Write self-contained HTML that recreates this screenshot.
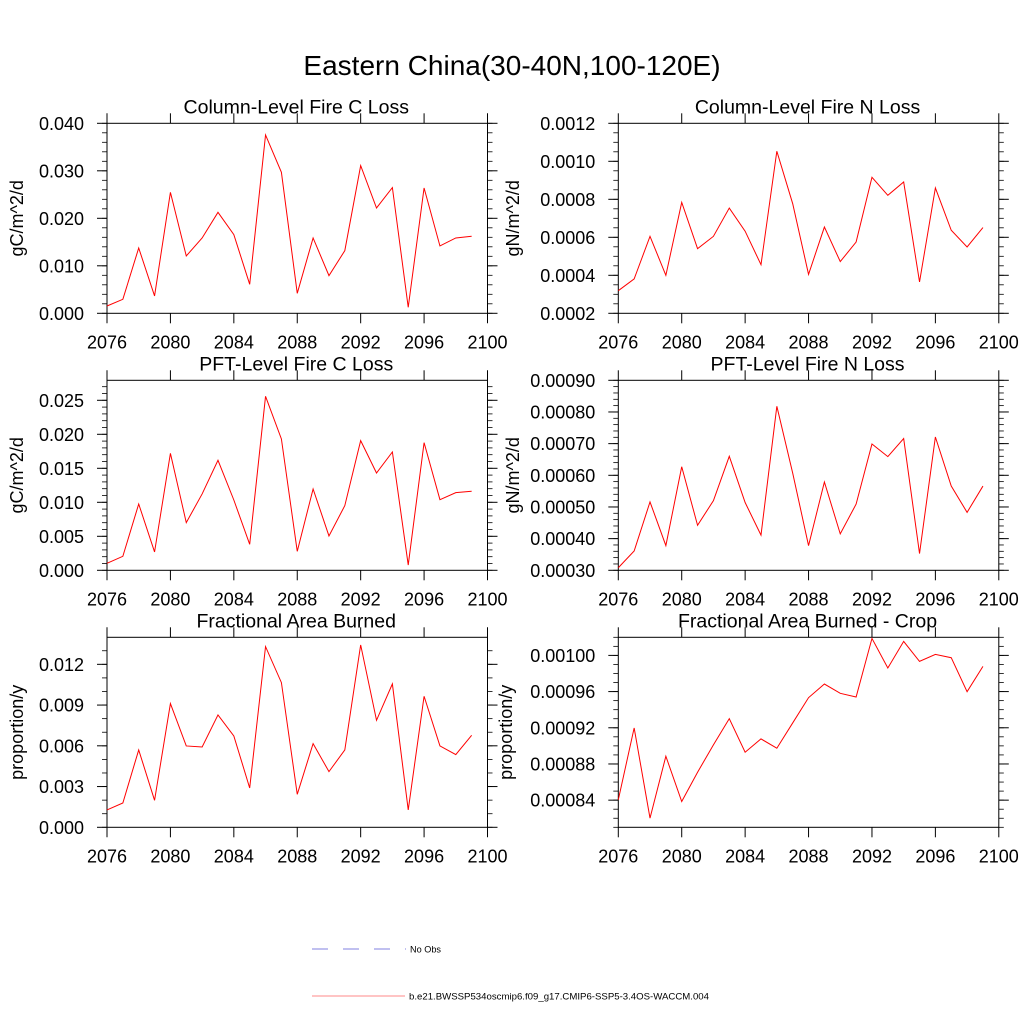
<!DOCTYPE html>
<html><head><meta charset="utf-8"><style>
html,body{margin:0;padding:0;background:#fff;}
svg{display:block;font-family:"Liberation Sans",sans-serif;}
</style></head><body>
<svg id="chart" width="1024" height="1024" viewBox="0 0 1024 1024" xmlns="http://www.w3.org/2000/svg">
<rect width="1024" height="1024" fill="#fff"/>
<text x="512" y="75" font-size="28" text-anchor="middle">Eastern China(30-40N,100-120E)</text>
<g id="panels"></g>
<g>
<line x1="312" y1="949" x2="406" y2="949" stroke="#8080e0" stroke-width="1" stroke-dasharray="16,15"/>
<text x="410" y="952.5" font-size="9.6" textLength="31" lengthAdjust="spacingAndGlyphs">No Obs</text>
<line x1="312" y1="996" x2="405" y2="996" stroke="#ff8888" stroke-width="1"/>
<text x="409" y="999.5" font-size="9.6" textLength="300" lengthAdjust="spacingAndGlyphs">b.e21.BWSSP534oscmip6.f09_g17.CMIP6-SSP5-3.4OS-WACCM.004</text>
</g>
</svg>
<script>
const years = [2076,2077,2078,2079,2080,2081,2082,2083,2084,2085,2086,2087,2088,2089,2090,2091,2092,2093,2094,2095,2096,2097,2098,2099];
const xTicks = [2076,2080,2084,2088,2092,2096,2100];
const colFireC = [0.00154,0.00295,0.01375,0.00365,0.02547,0.01207,0.01586,0.02126,0.01656,0.0061,0.03754,0.02968,0.00421,0.01586,0.00793,0.01319,0.03109,0.02217,0.02646,0.00126,0.02639,0.01418,0.01586,0.01621];
const colFireN = [0.000319,0.000381,0.000605,0.0004,0.000784,0.00054,0.000605,0.000754,0.000632,0.000456,0.001053,0.000777,0.000405,0.000654,0.000472,0.000575,0.000916,0.000821,0.000891,0.000365,0.00086,0.000637,0.000549,0.000651];
const pftFireC = [0.00103,0.00206,0.00975,0.0027,0.0172,0.00701,0.01123,0.01618,0.01034,0.00382,0.02559,0.01931,0.00279,0.01196,0.00505,0.00951,0.01907,0.01431,0.0174,0.00078,0.01877,0.01039,0.01142,0.01162];
const pftFireN = [0.000308,0.000361,0.000516,0.000378,0.000627,0.000442,0.00052,0.00066,0.000514,0.000411,0.000818,0.000607,0.000378,0.000579,0.000415,0.000509,0.000699,0.000659,0.000716,0.000353,0.000721,0.000566,0.000483,0.000566];
const areaBurned = [0.001277,0.001792,0.005696,0.001989,0.009108,0.00599,0.005917,0.008273,0.006727,0.002897,0.013306,0.010655,0.00243,0.006162,0.0041,0.005696,0.013429,0.00788,0.010557,0.001277,0.009648,0.00599,0.005352,0.006776];
const areaBurnedCrop = [0.00084037,0.00091982,0.00082014,0.00088855,0.00083853,0.0008709,0.00090106,0.00093011,0.00089297,0.00090768,0.00089738,0.00092533,0.00095329,0.00096837,0.00095807,0.00095402,0.00101876,0.00098603,0.00101545,0.00099338,0.0010011,0.00099743,0.00095991,0.00098787];
const ticks1 = ["0.000","0.010","0.020","0.030","0.040"];
const ticks2 = ["0.0002","0.0004","0.0006","0.0008","0.0010","0.0012"];
const ticks3 = ["0.000","0.005","0.010","0.015","0.020","0.025"];
const ticks4 = ["0.00030","0.00040","0.00050","0.00060","0.00070","0.00080","0.00090"];
const ticks5 = ["0.000","0.003","0.006","0.009","0.012"];
const ticks6 = ["0.00084","0.00088","0.00092","0.00096","0.00100"];

const NS="http://www.w3.org/2000/svg";
const root=document.getElementById('panels');
function el(tag,attrs,parent){const e=document.createElementNS(NS,tag);for(const k in attrs)e.setAttribute(k,attrs[k]);parent.appendChild(e);return e;}

const panels=[
 {id:'col-fire-c',title:'Column-Level Fire C Loss',ylab:'gC/m^2/d',data:colFireC,ticks:ticks1,ymin:0,ymax:0.04,minor:0.002,x0:107,y0:123.3,lx:17},
 {id:'col-fire-n',title:'Column-Level Fire N Loss',ylab:'gN/m^2/d',data:colFireN,ticks:ticks2,ymin:0.0002,ymax:0.0012,minor:0.00005,x0:618.3,y0:123.3,lx:513},
 {id:'pft-fire-c',title:'PFT-Level Fire C Loss',ylab:'gC/m^2/d',data:pftFireC,ticks:ticks3,ymin:0,ymax:0.02794,minor:0.001,x0:107,y0:380.3,lx:17},
 {id:'pft-fire-n',title:'PFT-Level Fire N Loss',ylab:'gN/m^2/d',data:pftFireN,ticks:ticks4,ymin:0.0003,ymax:0.0009,minor:0.00002,x0:618.3,y0:380.3,lx:513},
 {id:'area-burned',title:'Fractional Area Burned',ylab:'proportion/y',data:areaBurned,ticks:ticks5,ymin:0,ymax:0.01399,minor:0.001,x0:107,y0:637.3,lx:17},
 {id:'area-burned-crop',title:'Fractional Area Burned - Crop',ylab:'proportion/y',data:areaBurnedCrop,ticks:ticks6,ymin:0.00081,ymax:0.00102,minor:0.00001,x0:618.3,y0:637.3,lx:506}
];
const W=380.5,H=190;
panels.forEach(p=>{
 const g=el('g',{},root);
 
 
 const xs=v=>p.x0+(v-2076)/24*W;
 const ys=v=>p.y0+H-(v-p.ymin)/(p.ymax-p.ymin)*H;
 const L=p.x0,R=p.x0+W,T=p.y0,B=p.y0+H;
 const start=Math.ceil(p.ymin/p.minor-1e-6);
 for(let k=start;k*p.minor<=p.ymax+1e-12;k++){
  const y=ys(k*p.minor);
  el('line',{x1:L-5,y1:y,x2:L,y2:y,stroke:'#000','stroke-width':0.8},g);
  el('line',{x1:R,y1:y,x2:R+5,y2:y,stroke:'#000','stroke-width':0.8},g);
 }
 p.ticks.forEach(t=>{
  const y=ys(parseFloat(t));
  el('line',{x1:L-10,y1:y,x2:L,y2:y,stroke:'#000','stroke-width':1},g);
  el('line',{x1:R,y1:y,x2:R+10,y2:y,stroke:'#000','stroke-width':1},g);
  const tx=el('text',{x:L-23,y:y+6.5,'font-size':18,'text-anchor':'end'},g);
  
  
  tx.textContent=t;
 });
 xTicks.forEach(t=>{
  const x=xs(t);
  el('line',{x1:x,y1:B,x2:x,y2:B+10,stroke:'#000','stroke-width':1},g);
  el('line',{x1:x,y1:T-10,x2:x,y2:T,stroke:'#000','stroke-width':1},g);
  const tx=el('text',{x:x,y:B+35,'font-size':18,'text-anchor':'middle'},g);
  
  
  tx.textContent=t;
 });
 el('rect',{x:L,y:T,width:W,height:H,fill:'none',stroke:'#000','stroke-width':1},g);
 const ti=el('text',{x:(L+R)/2-1,y:T-10,'font-size':19.5,'text-anchor':'middle'},g);
 
 
 ti.textContent=p.title;
 const lx=p.lx+6, ly=(T+B)/2;
 const yl=el('text',{x:lx,y:ly,'font-size':18,'text-anchor':'middle',transform:`rotate(-90 ${lx} ${ly})`},g);
 
 
 yl.textContent=p.ylab;
 const pts=p.data.map((v,i)=>xs(years[i]).toFixed(2)+','+ys(v).toFixed(2)).join(' ');
 const pl=el('polyline',{points:pts,fill:'none',stroke:'#ff0000','stroke-width':1},g);
 
 
});
</script>
</body></html>
